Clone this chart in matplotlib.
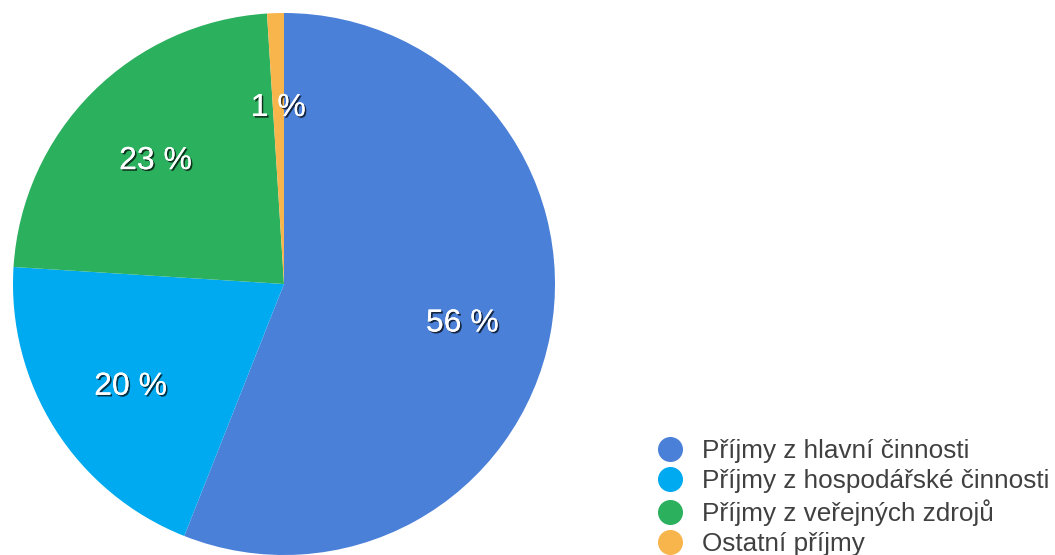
import matplotlib
matplotlib.use("Agg")
import matplotlib.pyplot as plt
import matplotlib.patheffects as pe
from matplotlib.lines import Line2D
import numpy as np

labels = ["Příjmy z hlavní činnosti", "Příjmy z hospodářské činnosti",
          "Příjmy z veřejných zdrojů", "Ostatní příjmy"]
values = [56, 20, 23, 1]
pct_labels = ["56 %", "20 %", "23 %", "1 %"]
colors = ["#4a80d8", "#00aaf0", "#2bb05e", "#f7b54c"]

W, H = 1055, 555
fig = plt.figure(figsize=(W / 100, H / 100), dpi=100)
plt.rcParams['font.family'] = ['Liberation Sans', 'DejaVu Sans']

cx, cy, r = 284, 284, 271
ax = fig.add_axes([(cx - r) / W, (H - cy - r) / H, 2 * r / W, 2 * r / H])
wedges, texts = ax.pie(values, colors=colors, startangle=90, counterclock=False,
                       radius=1.0, wedgeprops=dict(linewidth=0))
ax.set_xlim(-1, 1)
ax.set_ylim(-1, 1)
ax.set_aspect('equal')
ax.axis('off')

# percentage labels
total = sum(values)
ang = 90.0
dist = 0.67
yshift = -5.5 / r
for v, t in zip(values, pct_labels):
    span = 360.0 * v / total
    mid = np.deg2rad(ang - span / 2)
    ax.text(dist * np.cos(mid), dist * np.sin(mid) + yshift, t, ha='center', va='center',
            fontsize=23, color='white',
            path_effects=[pe.withSimplePatchShadow(offset=(1.2, -1.2), shadow_rgbFace='black', alpha=0.7),
                          pe.Normal()])
    ang -= span

handles = [Line2D([], [], linestyle='none', marker='o', markersize=17,
                  markerfacecolor=c, markeredgecolor=c) for c in colors]
fig.legend(handles, labels, loc='upper left',
           bbox_to_anchor=(657 / W, 1 - 439 / H), frameon=False,
           fontsize=18.8, labelcolor='#404040', borderpad=0, borderaxespad=0,
           handlelength=1.0, handletextpad=0.72, labelspacing=0.24)

fig.savefig("out.png", dpi=100)
